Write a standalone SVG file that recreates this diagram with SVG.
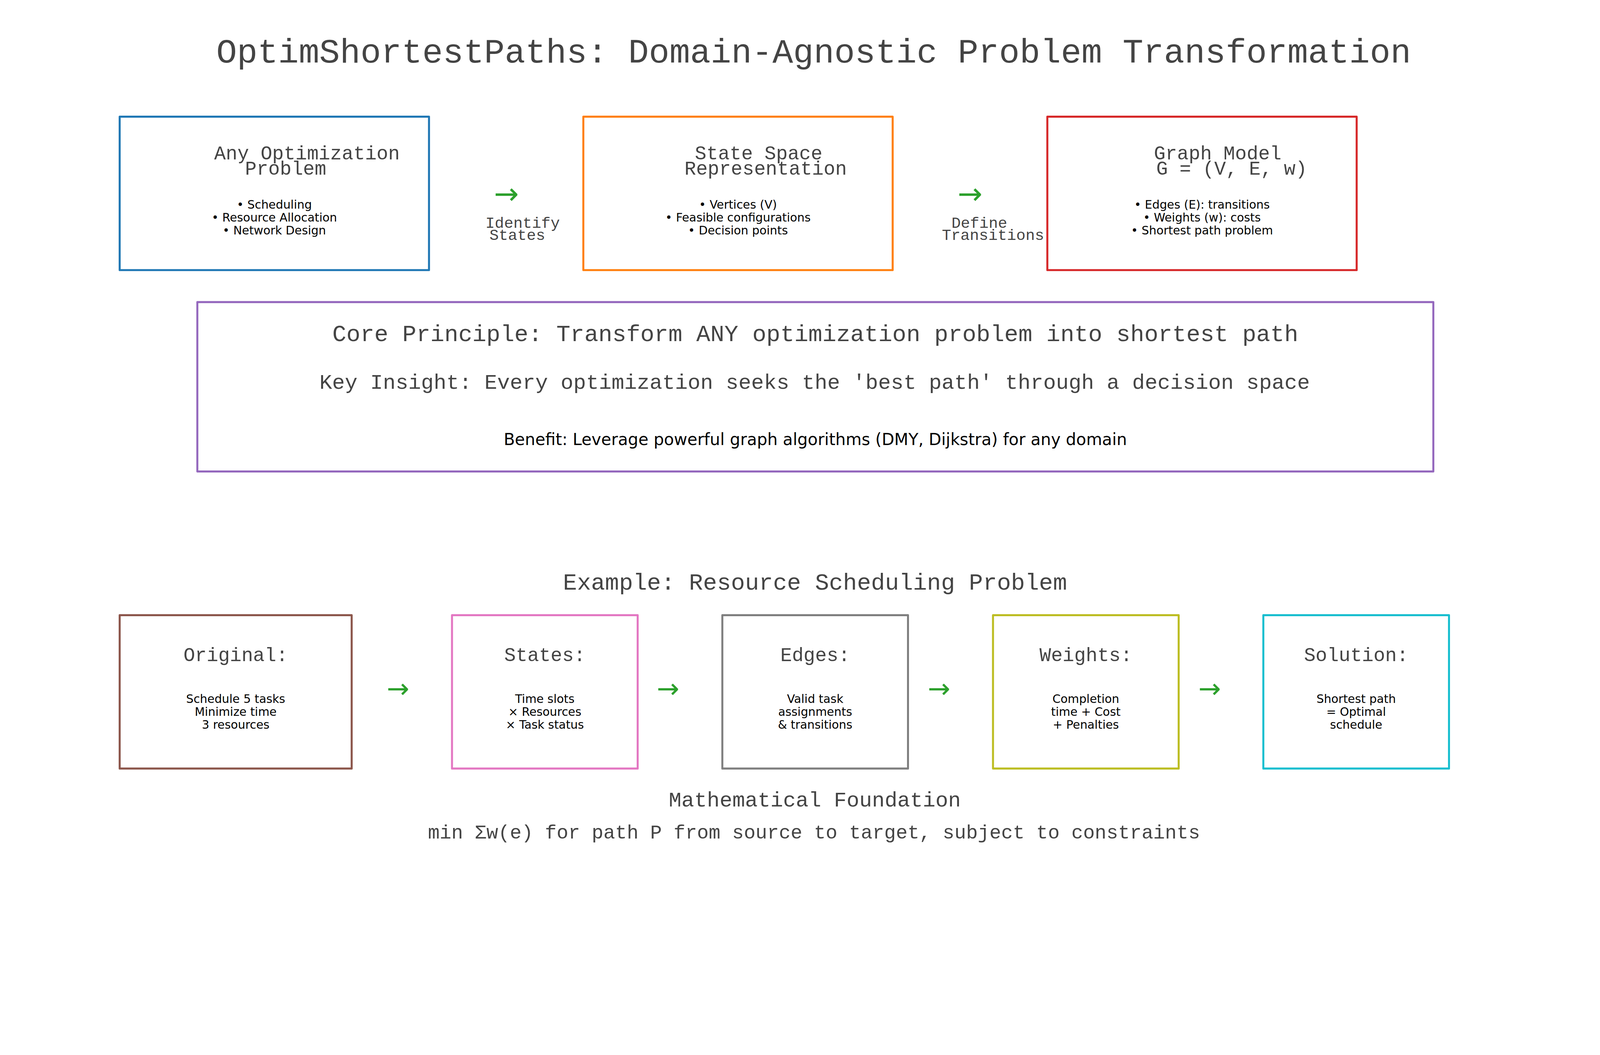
<svg xmlns="http://www.w3.org/2000/svg" width="4800" height="2700" viewBox="0 0 4800 2700" preserveAspectRatio="xMinYMin meet">
<style>
svg{width:100vw;height:100vh}
.mono{font-family:"Liberation Mono","DejaVu Sans Mono",monospace;fill:#444444;text-anchor:middle}
.sans{font-family:"DejaVu Sans","Liberation Sans",sans-serif;fill:#000000;text-anchor:middle}
.box{fill:#ffffff;stroke-width:6;stroke-linejoin:round}
.t58{font-size:58px}
.b35{font-size:35px}
.arr{font-family:"DejaVu Sans",sans-serif;fill:#2ca02c;text-anchor:middle}
</style>
<rect width="4800" height="2700" fill="#ffffff"/>
<text id="title" class="mono" x="2441" y="187" font-size="103">OptimShortestPaths: Domain-Agnostic Problem Transformation</text>

<g id="node-problem">
<rect class="box" x="359" y="350" width="928" height="460" stroke="#1f77b4"/>
<text class="mono t58" x="921" y="478">Any Optimization</text>
<text class="mono t58" x="857" y="524">Problem</text>
<text class="sans b35" x="823" y="626">• Scheduling</text>
<text class="sans b35" x="823" y="664.5">• Resource Allocation</text>
<text class="sans b35" x="823" y="703">• Network Design</text>
</g>

<g id="node-statespace">
<rect class="box" x="1750" y="350" width="928" height="460" stroke="#ff7f0e"/>
<text class="mono t58" x="2276" y="478">State Space</text>
<text class="mono t58" x="2297" y="524">Representation</text>
<text class="sans b35" x="2214" y="626">• Vertices (V)</text>
<text class="sans b35" x="2214" y="664.5">• Feasible configurations</text>
<text class="sans b35" x="2214" y="703">• Decision points</text>
</g>

<g id="node-graph">
<rect class="box" x="3142" y="350" width="928" height="460" stroke="#d62728"/>
<text class="mono t58" x="3653" y="478">Graph Model</text>
<text class="mono t58" x="3695" y="524">G = (V, E, w)</text>
<text class="sans b35" x="3606" y="626">• Edges (E): transitions</text>
<text class="sans b35" x="3606" y="664.5">• Weights (w): costs</text>
<text class="sans b35" x="3606" y="703">• Shortest path problem</text>
</g>

<g id="node-core">
<rect class="box" x="592" y="906" width="3708" height="508" stroke="#9467bd"/>
<text class="mono" x="2446" y="1023" font-size="70">Core Principle: Transform ANY optimization problem into shortest path</text>
<text class="mono" x="2444" y="1166" font-size="63.5">Key Insight: Every optimization seeks the 'best path' through a decision space</text>
<text class="sans" x="2446" y="1335" font-size="49">Benefit: Leverage powerful graph algorithms (DMY, Dijkstra) for any domain</text>
</g>

<text id="example-title" class="mono" x="2445" y="1768" font-size="70">Example: Resource Scheduling Problem</text>

<g id="node-original">
<rect class="box" x="359" y="1845" width="696" height="460" stroke="#8c564b"/>
<text class="mono t58" x="707" y="1983">Original:</text>
<text class="sans b35" x="707" y="2108">Schedule 5 tasks</text>
<text class="sans b35" x="707" y="2146.5">Minimize time</text>
<text class="sans b35" x="707" y="2185">3 resources</text>
</g>

<g id="node-states">
<rect class="box" x="1356" y="1845" width="557" height="460" stroke="#e377c2"/>
<text class="mono t58" x="1634.5" y="1983">States:</text>
<text class="sans b35" x="1634.5" y="2108">Time slots</text>
<text class="sans b35" x="1634.5" y="2146.5">× Resources</text>
<text class="sans b35" x="1634.5" y="2185">× Task status</text>
</g>

<g id="node-edges">
<rect class="box" x="2167" y="1845" width="557" height="460" stroke="#7f7f7f"/>
<text class="mono t58" x="2445.5" y="1983">Edges:</text>
<text class="sans b35" x="2445.5" y="2108">Valid task</text>
<text class="sans b35" x="2445.5" y="2146.5">assignments</text>
<text class="sans b35" x="2445.5" y="2185">&amp; transitions</text>
</g>

<g id="node-weights">
<rect class="box" x="2979" y="1845" width="557" height="460" stroke="#bcbd22"/>
<text class="mono t58" x="3257.5" y="1983">Weights:</text>
<text class="sans b35" x="3257.5" y="2108">Completion</text>
<text class="sans b35" x="3257.5" y="2146.5">time + Cost</text>
<text class="sans b35" x="3257.5" y="2185">+ Penalties</text>
</g>

<g id="node-solution">
<rect class="box" x="3790" y="1845" width="557" height="460" stroke="#17becf"/>
<text class="mono t58" x="4068.5" y="1983">Solution:</text>
<text class="sans b35" x="4068.5" y="2108">Shortest path</text>
<text class="sans b35" x="4068.5" y="2146.5">= Optimal</text>
<text class="sans b35" x="4068.5" y="2185">schedule</text>
</g>

<g id="connectors">
<text class="arr" x="1519" y="612" font-size="89">→</text>
<text class="mono" x="1568" y="683" font-size="46.5">Identify</text>
<text class="mono" x="1552" y="720" font-size="46.5">States</text>
<text class="arr" x="2910" y="612" font-size="89">→</text>
<text class="mono" x="2938" y="683" font-size="46.5">Define</text>
<text class="mono" x="2979" y="720" font-size="46.5">Transitions</text>
<text class="arr" x="1194" y="2093" font-size="81">→</text>
<text class="arr" x="2004" y="2093" font-size="81">→</text>
<text class="arr" x="2817" y="2093" font-size="81">→</text>
<text class="arr" x="3629" y="2093" font-size="81">→</text>
</g>

<g id="math">
<text class="mono" x="2444.5" y="2419" font-size="63.5">Mathematical Foundation</text>
<text class="mono" x="2442" y="2515" font-size="58.5">min Σw(e) for path P from source to target, subject to constraints</text>
</g>
</svg>
